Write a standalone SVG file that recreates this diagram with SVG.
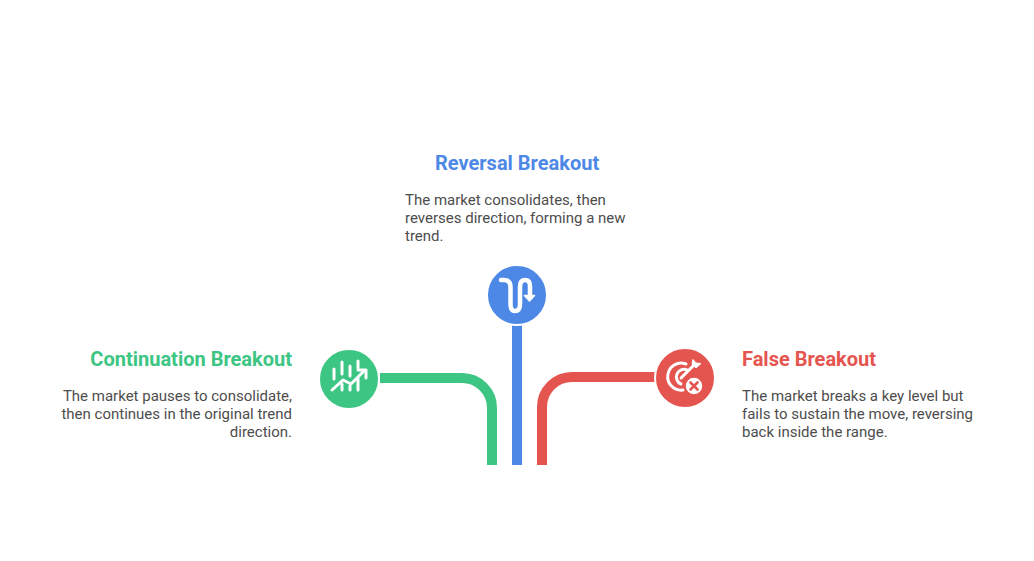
<svg xmlns="http://www.w3.org/2000/svg" width="1034" height="561" viewBox="0 0 1034 561">
<style>
text{font-family:Roboto,"Liberation Sans",sans-serif}
.t{font-size:20px;font-weight:700}
.b{font-size:15px;fill:#4d4d4d}
.r{text-anchor:end}
.c{fill:none;stroke-width:10}
.i{fill:none;stroke:#fff;stroke-width:3;stroke-linecap:round;stroke-linejoin:round}
.ring{stroke:#fff;stroke-width:2}
</style>
<rect width="1034" height="561" fill="#fff"/>
<g id="connectors">
<path class="c" stroke="#3cc583" d="M380 378H462A30 30 0 0 1 492 408V465"/>
<path class="c" stroke="#4e88e7" d="M517 325V465"/>
<path class="c" stroke="#e5554f" d="M655 377H572A30 30 0 0 0 542 407V465"/>
</g>
<g id="continuation">
<circle class="ring" cx="349" cy="379" r="30" fill="#3cc583"/>
<path class="i" d="M334 369V379M342 362V374M350 366V376M358 361V368M342 384V390M350 386V390M358 378V390M332 390L343 380L351 384L364 371"/>
<path class="i" d="M358 370H366V378"/>
<text class="t r" x="292" y="366" fill="#3cc583">Continuation Breakout</text>
<text class="b r" x="292" y="401">The market pauses to consolidate,</text>
<text class="b r" x="292" y="419">then continues in the original trend</text>
<text class="b r" x="292" y="437">direction.</text>
</g>
<g id="reversal">
<circle class="ring" cx="517" cy="295" r="30" fill="#4e88e7"/>
<path d="M501 280H504Q510.500 280 510.500 287V304Q510.500 311 515 311Q520 311 520 304V287Q520 280 525 280Q530 280 530 286V296" fill="none" stroke="#fff" stroke-width="4.500" stroke-linecap="round" stroke-linejoin="round"/>
<path d="M524.500 295.500H534.500L529.500 301Z" fill="#fff" stroke="#fff" stroke-width="1.500" stroke-linejoin="round"/>
<text class="t" x="435" y="170" fill="#4e88e7">Reversal Breakout</text>
<text class="b" x="405" y="205">The market consolidates, then</text>
<text class="b" x="405" y="223">reverses direction, forming a new</text>
<text class="b" x="405" y="241">trend.</text>
</g>
<g id="false">
<circle class="ring" cx="685" cy="378" r="30" fill="#e5554f"/>
<path class="i" d="M686 364A13.500 13.500 0 1 0 683 390"/>
<path class="i" d="M687 370A7.500 7.500 0 1 0 681 384"/>
<path class="i" d="M681 378L695 364"/>
<path d="M692 364L693 359.500L696 363L701 363.500L696 368Z" fill="#fff" stroke="#fff" stroke-linejoin="round"/>
<circle cx="694" cy="386" r="9" fill="#fff" stroke="#e5554f" stroke-width="1.500"/>
<path d="M690.500 382.500L697.500 389.500M697.500 382.500L690.500 389.500" stroke="#e5554f" stroke-width="2.600" stroke-linecap="round"/>
<text class="t" x="742" y="366" fill="#e5554f">False Breakout</text>
<text class="b" x="742" y="401">The market breaks a key level but</text>
<text class="b" x="742" y="419">fails to sustain the move, reversing</text>
<text class="b" x="742" y="437">back inside the range.</text>
</g>
</svg>
